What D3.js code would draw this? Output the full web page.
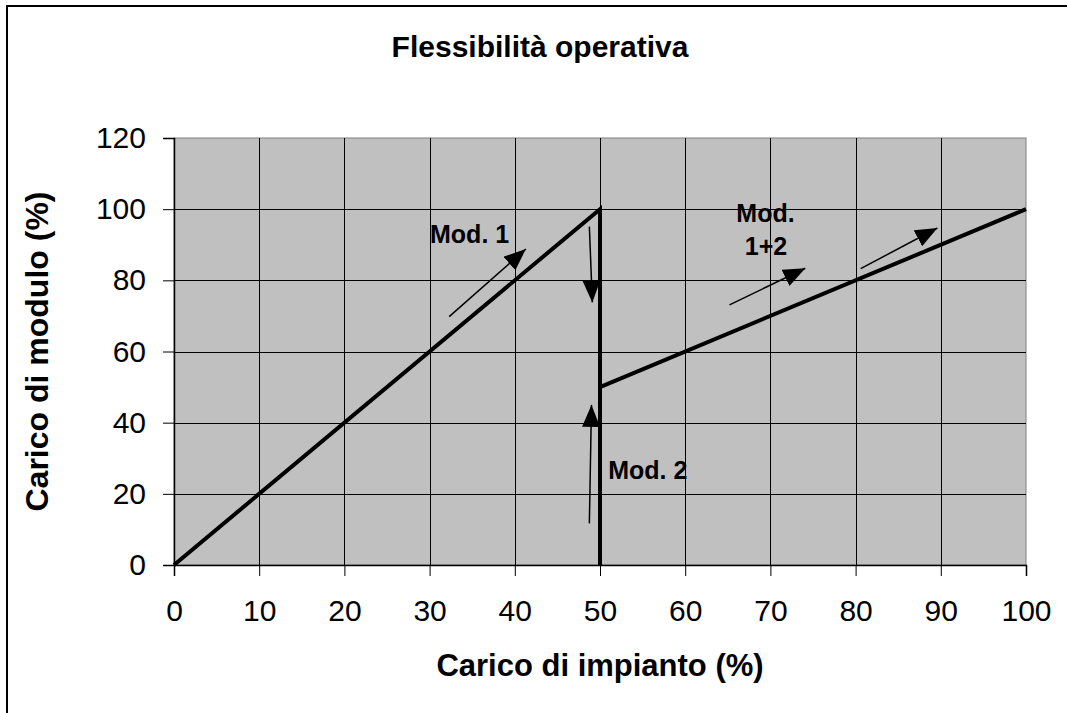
<!DOCTYPE html>
<html>
<head>
<meta charset="utf-8">
<script src="https://cdn.jsdelivr.net/npm/d3@7"></script>
<style>
  body { margin: 0; background: #fff; }
  text { font-family: "Liberation Sans", Arial, sans-serif; fill: #000; }
</style>
</head>
<body>
<div id="chart"></div>
<script>
// values
var xTicks = [0, 10, 20, 30, 40, 50, 60, 70, 80, 90, 100];
var yTicks = [0, 20, 40, 60, 80, 100, 120];
var lineX = [0, 50, 50, 50, 100];
var lineY = [0, 100, 0, 50, 100];
// arrows: start x, start y, end x, end y (data units)
var arrowX1 = [32.3, 48.75, 48.75, 65.2, 80.6];
var arrowY1 = [69.8, 95.1, 11.7, 73.1, 83.3];
var arrowX2 = [41.3, 49.1, 49.0, 74.1, 89.6];
var arrowY2 = [88.8, 73.8, 45.0, 83.4, 94.7];
var labelText = ["Mod. 1", "Mod. 2", "Mod.", "1+2"];
var labelX = [30.05, 50.97, 66.0, 67.0];
var labelY = [90.5, 24.1, 96.5, 87.1];

var W = 1067, H = 713;
var margin = {top: 138, right: 41, bottom: 148, left: 174};
var width = W - margin.left - margin.right;
var height = H - margin.top - margin.bottom;

var svg = d3.select("#chart").append("svg")
    .attr("width", W)
    .attr("height", H);

// outer frame
svg.append("rect")
    .attr("x", 7).attr("y", 6)
    .attr("width", W).attr("height", H)
    .attr("fill", "none")
    .attr("stroke", "#000")
    .attr("stroke-width", 2);

var g = svg.append("g")
    .attr("transform", "translate(" + margin.left + "," + margin.top + ")");

var x = d3.scaleLinear().domain([0, 100]).range([0, width]);
var y = d3.scaleLinear().domain([0, 120]).range([height, 0]);

g.append("rect")
    .attr("width", width).attr("height", height)
    .attr("fill", "#c0c0c0")
    .attr("stroke", "#808080");

// grid
g.selectAll(".vgrid").data(xTicks.slice(1, -1)).enter().append("line")
    .attr("x1", function(d) { return Math.round(x(d)) + 0.5; })
    .attr("x2", function(d) { return Math.round(x(d)) + 0.5; })
    .attr("y1", 0).attr("y2", height)
    .attr("stroke", "#000").attr("stroke-width", 1);
g.selectAll(".hgrid").data(yTicks.slice(1, -1)).enter().append("line")
    .attr("y1", function(d) { return Math.round(y(d)) + 0.5; })
    .attr("y2", function(d) { return Math.round(y(d)) + 0.5; })
    .attr("x1", 0).attr("x2", width)
    .attr("stroke", "#000").attr("stroke-width", 1);

// axes
var xAxis = g.append("g")
    .attr("transform", "translate(0," + height + ")")
    .call(d3.axisBottom(x).tickValues(xTicks).tickSize(11).tickPadding(24));
var yAxis = g.append("g")
    .call(d3.axisLeft(y).tickValues(yTicks).tickSize(11).tickPadding(17));
[xAxis, yAxis].forEach(function(a) {
  a.select(".domain").attr("stroke", "#000").attr("stroke-width", 1.5);
  a.selectAll(".tick line").attr("stroke", "#000");
  a.selectAll("text")
    .style("font-family", "'Liberation Sans', Arial, sans-serif")
    .style("font-size", "30px")
    .attr("fill", "#000");
});

// main line
var pts = lineX.map(function(d, i) { return [x(d), y(lineY[i])]; });
g.append("path")
    .attr("d", d3.line()(pts))
    .attr("fill", "none")
    .attr("stroke", "#000")
    .attr("stroke-width", 4)
    .attr("stroke-linejoin", "miter");

// arrows
svg.append("defs").append("marker")
    .attr("id", "head")
    .attr("viewBox", "0 0 22 18")
    .attr("refX", 22).attr("refY", 9)
    .attr("markerWidth", 22).attr("markerHeight", 18)
    .attr("markerUnits", "userSpaceOnUse")
    .attr("orient", "auto")
  .append("path")
    .attr("d", "M0,0 L22,9 L0,18 Z")
    .attr("fill", "#000");

g.selectAll(".arrow").data(arrowX1).enter().append("line")
    .attr("x1", function(d) { return x(d); })
    .attr("y1", function(d, i) { return y(arrowY1[i]); })
    .attr("x2", function(d, i) { return x(arrowX2[i]); })
    .attr("y2", function(d, i) { return y(arrowY2[i]); })
    .attr("stroke", "#000")
    .attr("stroke-width", 1.5)
    .attr("marker-end", "url(#head)");

// labels
g.selectAll(".lab").data(labelText).enter().append("text")
    .attr("x", function(d, i) { return x(labelX[i]); })
    .attr("y", function(d, i) { return y(labelY[i]); })
    .style("font-size", "25px")
    .style("font-weight", "bold")
    .text(function(d) { return d; });

// titles
svg.append("text")
    .attr("x", 540).attr("y", 57)
    .attr("text-anchor", "middle")
    .style("font-size", "30px")
    .style("font-weight", "bold")
    .text("Flessibilità operativa");

svg.append("text")
    .attr("x", 600).attr("y", 676)
    .attr("text-anchor", "middle")
    .style("font-size", "31px")
    .style("font-weight", "bold")
    .text("Carico di impianto (%)");

svg.append("text")
    .attr("transform", "translate(48," + (margin.top + height / 2) + ") rotate(-90)")
    .attr("text-anchor", "middle")
    .style("font-size", "32px")
    .style("font-weight", "bold")
    .text("Carico di modulo (%)");
</script>
</body>
</html>
